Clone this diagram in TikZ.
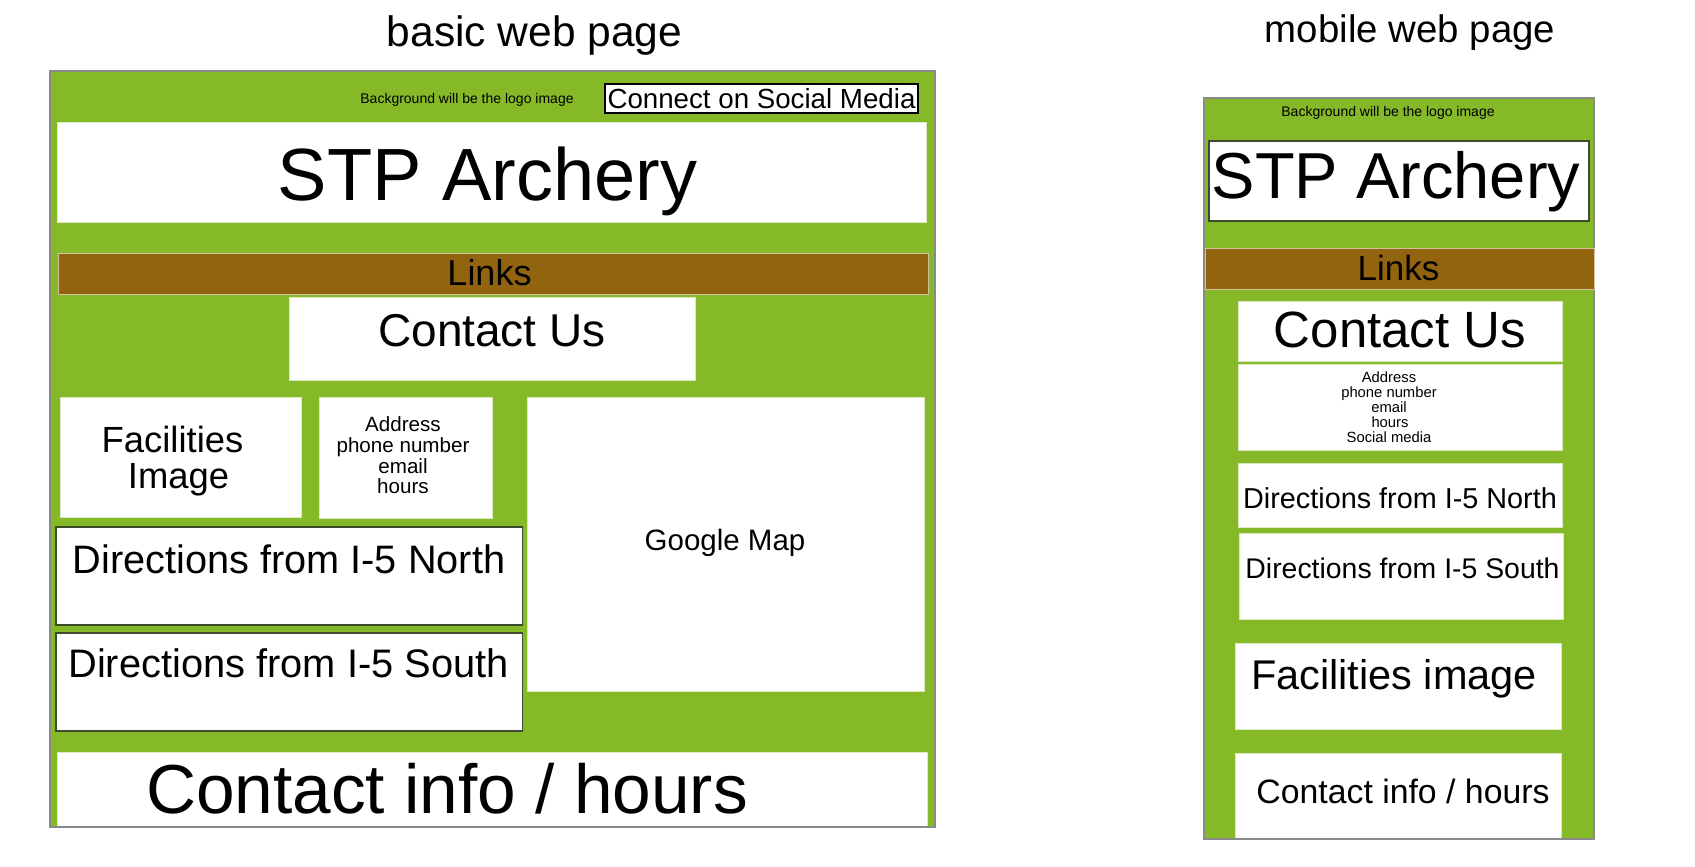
\documentclass[tikz,border=0pt]{standalone}
\usepackage{fontspec}
\setmainfont{Liberation Sans}
\definecolor{pagegreen}{HTML}{85B928}
\definecolor{linkbrown}{HTML}{936410}
\definecolor{panelgray}{HTML}{8A8A8A}
\definecolor{boxedge}{HTML}{3E4A2E}
\newcommand{\fsz}[1]{\fontsize{#1}{#1}\selectfont}
\tikzset{
  panel/.style={fill=pagegreen, draw=panelgray, line width=1.2pt},
  whitebox/.style={fill=white, draw=white!70!pagegreen, line width=0.8pt},
  edgebox/.style={fill=white, draw=boxedge, line width=1.2pt},
  blackbox/.style={fill=white, draw=black, line width=1.2pt},
  linkbar/.style={fill=linkbrown, draw=white!60!linkbrown, line width=1pt},
  txt/.style={inner sep=0pt, anchor=base, text=black},
}
\begin{document}
\begin{tikzpicture}[x=1pt, y=-1pt]
\useasboundingbox (0,0) rectangle (1695,867);

% ---------- desktop layout ----------
\node[txt, font=\fsz{42.5}] (titleA) at (534.5,47) {basic web page};
\path[panel] (50,71) rectangle (935,827);
\node[txt, font=\fsz{14}] (bgA) at (467,103) {Background will be the logo image};
\path[blackbox] (605,84) rectangle (918,113);
\node[txt, font=\fsz{27.7}] (socialA) at (761.5,108) {Connect on Social Media};
\path[whitebox] (57,122) rectangle (926.5,222);
\node[txt, font=\fsz{74}] (stpA) at (487.5,200) {STP Archery};
\path[linkbar] (58,253) rectangle (928,294);
\node[txt, font=\fsz{36}] (linksA) at (489.5,285) {Links};
\path[whitebox] (289,297) rectangle (695,380);
\node[txt, font=\fsz{46}] (contactA) at (492,346) {Contact Us};
\path[whitebox] (60,397) rectangle (301,517);
\node[txt, font=\fsz{36.4}] (facA1) at (172.5,452) {Facilities};
\node[txt, font=\fsz{36.4}] (facA2) at (178.5,488) {Image};
\path[whitebox] (319.6,397) rectangle (492.7,518);
\node[txt, font=\fsz{20.6}] (addrA1) at (403,431) {Address};
\node[txt, font=\fsz{20.6}] (addrA2) at (403,452) {phone number};
\node[txt, font=\fsz{20.6}] (addrA3) at (403,473) {email};
\node[txt, font=\fsz{20.6}] (addrA4) at (403,493) {hours};
\path[whitebox] (527,397) rectangle (924,691);
\node[txt, font=\fsz{29.5}] (mapA) at (725,550) {Google Map};
\path[edgebox] (56,527) rectangle (522.5,625);
\node[txt, font=\fsz{39.7}] (northA) at (289,573) {Directions from I-5 North};
\path[edgebox] (56,633) rectangle (522.5,731);
\node[txt, font=\fsz{39.8}] (southA) at (288.5,677) {Directions from I-5 South};
\path[whitebox] (57,752) rectangle (927,827);
\node[txt, font=\fsz{69.4}] (infoA) at (447,813) {Contact info / hours};
\draw[panelgray, line width=1.2pt] (50,827) -- (935,827);

% ---------- mobile layout ----------
\node[txt, font=\fsz{38.4}] (titleB) at (1410,43) {mobile web page};
\path[panel] (1204,98) rectangle (1594,839);
\node[txt, font=\fsz{14}] (bgB) at (1388,116) {Background will be the logo image};
\path[edgebox] (1209,141) rectangle (1589,221);
\node[txt, font=\fsz{65}] (stpB) at (1396,198) {STP Archery};
\path[linkbar] (1205,248) rectangle (1594,289);
\node[txt, font=\fsz{35}] (linksB) at (1398.5,280) {Links};
\path[whitebox] (1238,301) rectangle (1562,361);
\node[txt, font=\fsz{51}] (contactB) at (1400,347) {Contact Us};
\path[whitebox] (1238,364) rectangle (1562,450);
\node[txt, font=\fsz{14.8}] (addrB1) at (1389,382) {Address};
\node[txt, font=\fsz{14.8}] (addrB2) at (1389,397) {phone number};
\node[txt, font=\fsz{14.8}] (addrB3) at (1389,412) {email};
\node[txt, font=\fsz{14.8}] (addrB4) at (1390,427) {hours};
\node[txt, font=\fsz{14.8}] (addrB5) at (1389,442) {Social media};
\path[whitebox] (1238,463) rectangle (1562,527);
\node[txt, font=\fsz{28.8}] (northB) at (1400,508) {Directions from I-5 North};
\path[whitebox] (1239,533) rectangle (1563,619);
\node[txt, font=\fsz{28.4}] (southB) at (1402.5,578) {Directions from I-5 South};
\path[whitebox] (1235,643) rectangle (1561,729);
\node[txt, font=\fsz{41.5}] (facB) at (1394,689) {Facilities image};
\path[whitebox] (1235,753) rectangle (1561,839);
\node[txt, font=\fsz{33.8}] (infoB) at (1403,803) {Contact info / hours};
\draw[panelgray, line width=1.2pt] (1204,839) -- (1594,839);
\end{tikzpicture}
\end{document}
